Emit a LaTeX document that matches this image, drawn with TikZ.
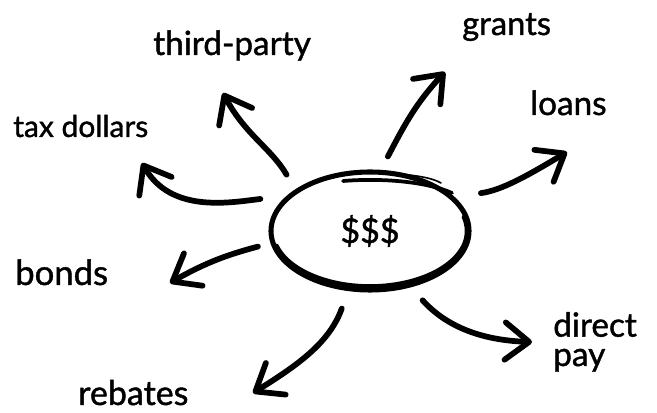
\documentclass[tikz,border=0pt]{standalone}
\usepackage{fontspec}
\setmainfont{Lato}[FakeBold=1.2]
\usepackage{tikz}
\usetikzlibrary{calc, shapes.geometric, arrows.meta}

\begin{document}
\begin{tikzpicture}[x=0.75pt, y=0.75pt,
    word/.style={anchor=base west, inner sep=0pt, font=\fontsize{#1}{22}\selectfont},
    word/.default=25,
    pen/.style={line width=4.3pt, line cap=round, -{Straight Barb[length=18pt, width=28pt, round]}},
    rim/.style={line width=3.8pt, line cap=round}]
    \useasboundingbox (0,0) rectangle (657,413);

    \node (money) [ellipse, draw, rim, minimum width=148.5pt, minimum height=88.5pt, inner sep=0pt, font=\fontsize{25.5}{21}\selectfont] at (370,182) {\$\$\$};
    \draw [rim, line width=2.8pt] (money.center) ++(195:72.5pt and 41.3pt) arc [start angle=195, end angle=375, x radius=72.5pt, y radius=41.3pt];
    \draw [rim, line width=2.8pt] ($(money)+(-27,50)$) .. controls ($(money)+(10,53)$) and ($(money)+(55,50)$) .. ($(money)+(82,38)$);
    \draw [rim, line width=1.2pt] ($(money)+(30,57)$) .. controls ($(money)+(50,55)$) and ($(money)+(62,53)$) .. ($(money)+(71,48)$);

    \node (third) [word] at (153,358) {third-party};
    \node (tax) [word=22.5] at (13,276) {tax dollars};
    \node (grants) [word=24.5] at (462,378) {grants};
    \node (loans) [word] at (530,298) {loans};
    \node (bonds) [word=26] at (15,128) {bonds};
    \node (rebates) [word=25.5] at (78,8) {rebates};
    \node (direct) [word=25, align=left] at (553,47) {direct\\pay};

    \coordinate (third-in) at (223,320);
    \coordinate (tax-in) at (142,250);
    \coordinate (grants-in) at (445,341);
    \coordinate (loans-in) at (567,261);
    \coordinate (bonds-in) at (170,130);
    \coordinate (rebates-in) at (253,20);
    \coordinate (direct-in) at (532,71);

    \draw [pen, shorten <=12.8pt] (money.151) to [out=120, in=-62] (third-in);
    \draw [pen, shorten <=20pt] (money.157.7) to [out=187, in=-60] (tax-in);
    \draw [pen, shorten <=11.3pt] (money.80.7) to [out=62, in=-133] (grants-in);
    \draw [pen, shorten <=20pt] (money.22.3) to [out=8, in=-149] (loans-in);
    \draw [pen, shorten <=9.75pt] (money.-173.9) to [out=195, in=30] (bonds-in);
    \draw [pen, shorten <=13.9pt] (money.-110) to [out=250, in=32] (rebates-in);
    \draw [pen, shorten <=13.1pt] (money.-54.3) to [out=-48, in=178] (direct-in);
\end{tikzpicture}
\end{document}
